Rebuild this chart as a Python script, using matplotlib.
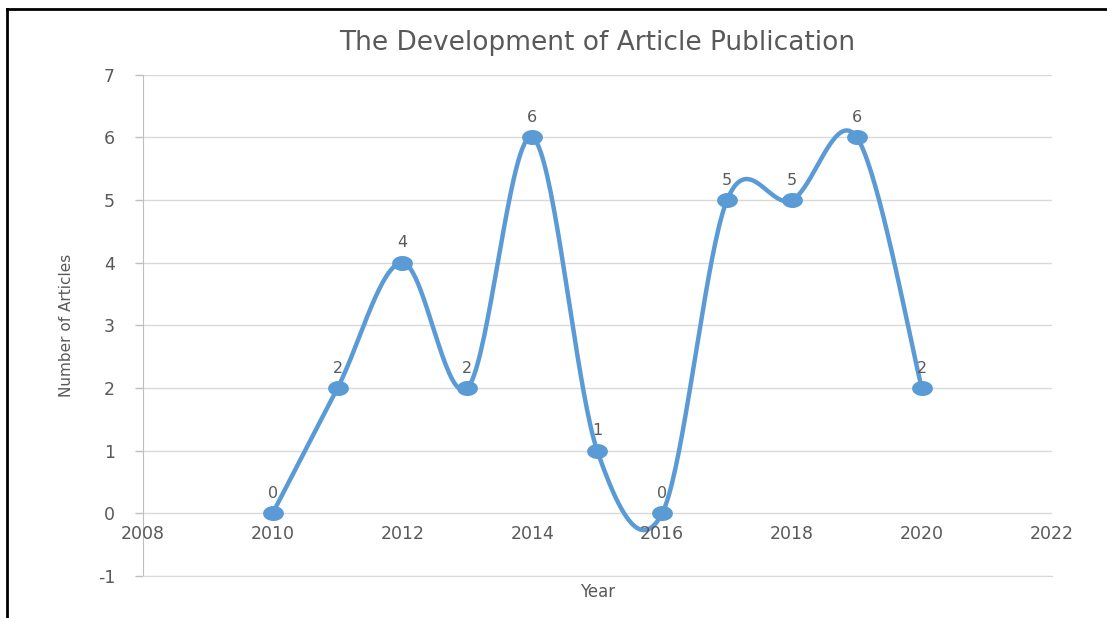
import numpy as np
import matplotlib.pyplot as plt
from matplotlib.lines import Line2D
from matplotlib.path import Path

plt.rcParams['axes.unicode_minus'] = False

# data
years = [2010, 2011, 2012, 2013, 2014, 2015, 2016, 2017, 2018, 2019, 2020]
articles = [0, 2, 4, 2, 6, 1, 0, 5, 5, 6, 2]

x_ticks = [2008, 2010, 2012, 2014, 2016, 2018, 2020, 2022]
y_ticks = [-1, 0, 1, 2, 3, 4, 5, 6, 7]

blue = "#5b9bd5"
grey = "#595959"


def smooth(xs, ys, n=40):
    # Excel style smoothed line (Catmull-Rom through the points)
    xs = np.asarray(xs, dtype=float)
    ys = np.asarray(ys, dtype=float)
    px = np.concatenate([[xs[0]], xs, [xs[-1]]])
    py = np.concatenate([[ys[0]], ys, [ys[-1]]])
    out_x, out_y = [], []
    t = np.linspace(0, 1, n)
    for i in range(1, len(px) - 2):
        p0, p1, p2, p3 = [np.array([px[j], py[j]]) for j in range(i - 1, i + 3)]
        c1 = p1 + (p2 - p0) / 6
        c2 = p2 - (p3 - p1) / 6
        b = ((1 - t) ** 3)[:, None] * p1 + (3 * (1 - t) ** 2 * t)[:, None] * c1 \
            + (3 * (1 - t) * t ** 2)[:, None] * c2 + (t ** 3)[:, None] * p2
        out_x.extend(b[:, 0])
        out_y.extend(b[:, 1])
    return out_x, out_y


# slightly flattened dot, like the stretched original
ang = np.linspace(0, 2 * np.pi, 40)
dot = Path(np.column_stack([np.cos(ang), 0.7 * np.sin(ang)]), closed=True)

fig = plt.figure(figsize=(11.07, 6.18), dpi=100)
ax = fig.add_axes([0.129, 0.068, 0.821, 0.811])

sx, sy = smooth(years, articles)
ax.plot(sx, sy, color=blue, linewidth=3.2, solid_capstyle="round", zorder=3)
ax.plot(years, articles, linestyle="none", marker=dot, color=blue,
        markersize=14, zorder=4)

for xv, yv in zip(years, articles):
    ax.annotate(str(yv), (xv, yv), xytext=(0, 9), textcoords="offset points",
                ha="center", va="bottom", fontsize=11.5, color=grey, zorder=5)

ax.set_xlim(2008, 2022)
ax.set_ylim(-1, 7)
ax.set_yticks(y_ticks)
ax.set_xticks([])
ax.grid(True, axis="y", color="#d9d9d9", linewidth=1)
ax.set_axisbelow(True)
for s in ["top", "right"]:
    ax.spines[s].set_visible(False)
ax.spines["bottom"].set_color("#d9d9d9")
ax.spines["left"].set_color("#bfbfbf")
ax.tick_params(axis="y", colors="#bfbfbf", labelcolor=grey, labelsize=12.5,
               length=6, width=1, pad=14)

# x tick labels sit under the y=0 line
for xv in x_ticks:
    ax.text(xv, -0.18, str(xv), ha="center", va="top", fontsize=12.5, color=grey)

ax.set_title("The Development of Article Publication", fontsize=19,
             color=grey, pad=18)
ax.text(0.5, -0.014, "Year", transform=ax.transAxes, ha="center", va="top",
        fontsize=12, color=grey)
fig.text(0.0605, 0.474, "Number of Articles", rotation=90, ha="center",
         va="center", fontsize=11, color=grey,
         family=["Liberation Sans Narrow", "DejaVu Sans"])

# frame around the picture (left and top)
fig.add_artist(Line2D([0.0065, 0.0065], [0, 0.986], transform=fig.transFigure,
                      color="black", linewidth=2))
fig.add_artist(Line2D([0.0065, 1], [0.986, 0.986], transform=fig.transFigure,
                      color="black", linewidth=2))

fig.savefig("out.png", dpi=100, facecolor="white")
